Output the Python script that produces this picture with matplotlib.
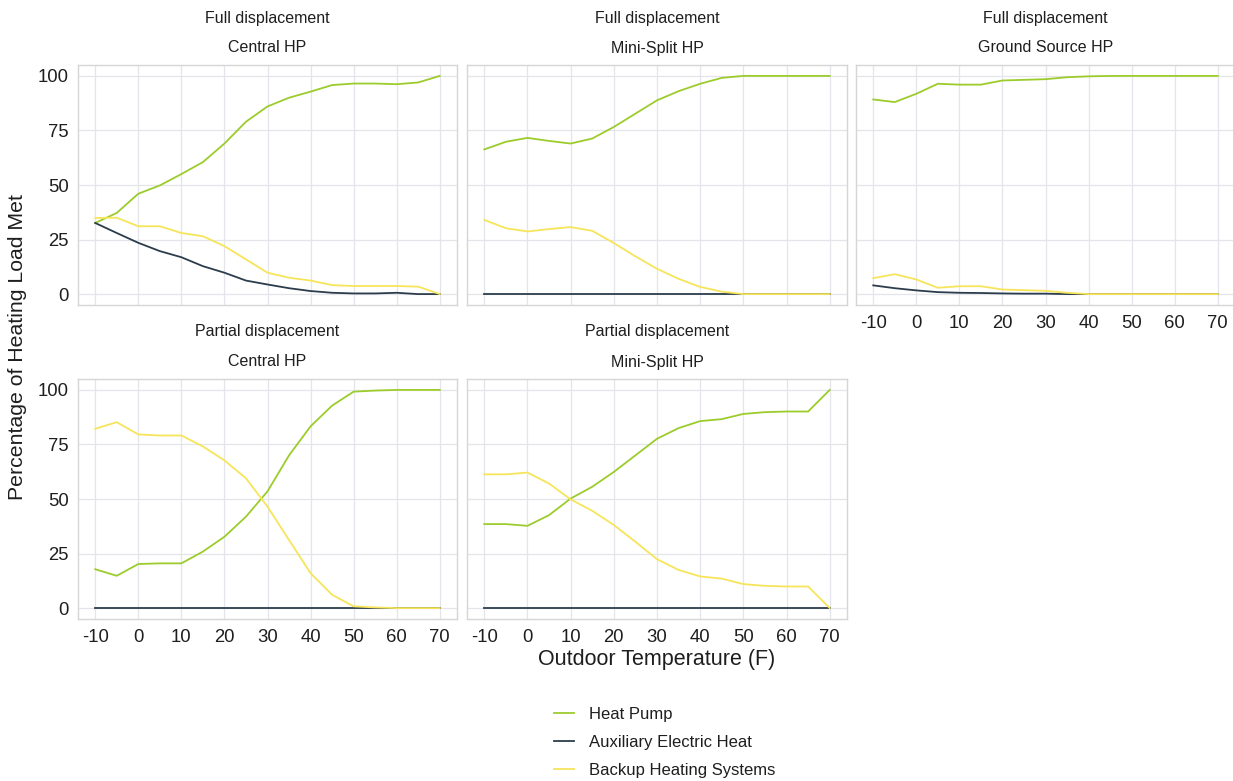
import matplotlib.pyplot as plt
import numpy as np

plt.rcParams['font.family'] = ['Liberation Sans', 'DejaVu Sans']
plt.rcParams['axes.unicode_minus'] = False

temps = np.arange(-10, 71, 5)

# Full displacement
full_central_hp = [32.6, 37.2, 46.0, 49.8, 55.0, 60.5, 69.0, 79.0, 86.0, 90.0, 92.8, 95.8, 96.5, 96.5, 96.2, 97.0, 100.0]
full_central_aux = [32.6, 28.0, 23.5, 19.7, 16.9, 12.8, 9.8, 6.2, 4.4, 2.7, 1.4, 0.6, 0.3, 0.3, 0.6, 0.0, 0.0]
full_central_backup = [34.9, 35.0, 31.1, 31.1, 28.0, 26.5, 22.0, 15.9, 9.8, 7.5, 6.2, 4.1, 3.7, 3.7, 3.7, 3.4, 0.0]

full_mini_hp = [66.3, 69.8, 71.6, 70.2, 69.0, 71.3, 76.6, 82.7, 88.8, 93.0, 96.4, 99.1, 100.0, 100.0, 100.0, 100.0, 100.0]
full_mini_aux = [0.0] * 17
full_mini_backup = [34.0, 30.2, 28.7, 29.8, 30.7, 29.0, 23.4, 17.3, 11.6, 7.0, 3.3, 1.1, 0.0, 0.0, 0.0, 0.0, 0.0]

full_ground_hp = [89.2, 88.0, 91.8, 96.4, 96.0, 96.0, 97.9, 98.2, 98.5, 99.4, 99.8, 100.0, 100.0, 100.0, 100.0, 100.0, 100.0]
full_ground_aux = [4.0, 2.7, 1.7, 0.9, 0.6, 0.5, 0.3, 0.2, 0.2, 0.0, 0.0, 0.0, 0.0, 0.0, 0.0, 0.0, 0.0]
full_ground_backup = [7.3, 9.1, 6.7, 2.9, 3.6, 3.6, 2.1, 1.8, 1.5, 0.6, 0.0, 0.0, 0.0, 0.0, 0.0, 0.0, 0.0]

# Partial displacement
part_central_hp = [17.8, 14.8, 20.2, 20.5, 20.5, 25.9, 32.7, 41.9, 53.5, 70.0, 83.3, 92.8, 99.2, 99.7, 100.0, 100.0, 100.0]
part_central_aux = [0.0] * 17
part_central_backup = [82.2, 85.2, 79.6, 79.1, 79.1, 74.1, 67.7, 59.5, 46.5, 31.2, 16.0, 6.1, 0.8, 0.3, 0.0, 0.0, 0.0]

part_mini_hp = [38.5, 38.5, 37.7, 42.6, 50.2, 55.6, 62.4, 70.0, 77.6, 82.5, 85.7, 86.6, 89.0, 89.8, 90.1, 90.1, 100.0]
part_mini_aux = [0.0] * 17
part_mini_backup = [61.3, 61.3, 62.1, 57.1, 49.8, 44.6, 38.1, 30.4, 22.4, 17.5, 14.5, 13.5, 11.0, 10.2, 9.9, 9.9, 0.0]

series_names = ['Heat Pump', 'Auxiliary Electric Heat', 'Backup Heating Systems']
series_colors = ['#9ccc2c', '#2b3d4c', '#f6e55a']

panels = [
    ('Full displacement', 'Central HP', full_central_hp, full_central_aux, full_central_backup),
    ('Full displacement', 'Mini-Split HP', full_mini_hp, full_mini_aux, full_mini_backup),
    ('Full displacement', 'Ground Source HP', full_ground_hp, full_ground_aux, full_ground_backup),
    ('Partial displacement', 'Central HP', part_central_hp, part_central_aux, part_central_backup),
    ('Partial displacement', 'Mini-Split HP', part_mini_hp, part_mini_aux, part_mini_backup),
]

W, H = 1233, 781
fig = plt.figure(figsize=(W / 100, H / 100), dpi=100)

# panel boxes in pixels: left, top, right, bottom
boxes = [
    (78, 65, 457, 305),
    (467, 65, 847, 305),
    (856, 65, 1235, 305),
    (78, 379, 457, 619),
    (467, 379, 847, 619),
]

text_col = '#1e1e1e'
for i, (grp, kind, hp, aux, backup) in enumerate(panels):
    l, t, r, b = boxes[i]
    ax = fig.add_axes([l / W, 1 - b / H, (r - l) / W, (b - t) / H])
    for vals, c in zip([hp, aux, backup], series_colors):
        ax.plot(temps, vals, color=c, lw=1.3)
    ax.set_xlim(-14, 74)
    ax.set_ylim(-5, 105)
    ax.set_xticks(np.arange(-10, 71, 10))
    ax.set_yticks([0, 25, 50, 75, 100])
    ax.grid(True, color='#e3e5ea', lw=0.9)
    ax.set_axisbelow(True)
    for s in ax.spines.values():
        s.set_color('#d6d6d6')
        s.set_linewidth(1.0)
    ax.tick_params(length=0, labelsize=13.3, labelcolor=text_col)
    ax.tick_params(axis='y', pad=6.5)
    ax.tick_params(axis='x', pad=7.5)
    if i in (1, 2, 4):
        ax.tick_params(labelleft=False)
    if i in (0, 1):
        ax.tick_params(labelbottom=False)
    cx = (l + r) / 2 / W
    fig.text(cx, 1 - (t - 17) / H, kind, ha='center', va='center', fontsize=11.5, color=text_col)
    fig.text(cx, 1 - (t - 47) / H, grp, ha='center', va='center', fontsize=11.5, color=text_col)

fig.text(18 / W, 1 - 347 / H, 'Percentage of Heating Load Met', rotation=90,
         ha='center', va='center', fontsize=15.3, color=text_col)
fig.text(657 / W, 1 - 660 / H, 'Outdoor Temperature (F)', ha='center', va='center',
         fontsize=15.5, color=text_col)

handles = [plt.Line2D([], [], color=c, lw=1.3) for c in series_colors]
fig.legend(handles, series_names, loc='center left', bbox_to_anchor=(539 / W, 1 - 742 / H),
           frameon=False, fontsize=12, handlelength=1.2, labelspacing=0.78,
           handletextpad=0.9, labelcolor=text_col)

fig.savefig('out.png', dpi=100)
